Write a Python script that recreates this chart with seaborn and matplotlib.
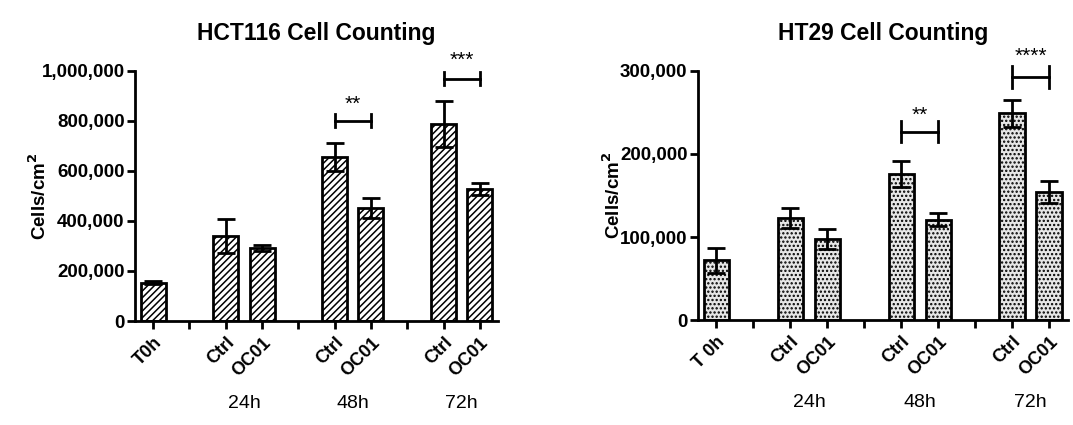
import matplotlib
matplotlib.use("Agg")
import matplotlib.pyplot as plt
import numpy as np
import pandas as pd
import seaborn as sns

# slot order along the x axis (gaps are empty slots between time points)
slots = ["T0h", "gap24", "Ctrl24", "OC0124", "gap48", "Ctrl48", "OC0148", "gap72", "Ctrl72", "OC0172"]
bar_keys = ["T0h", "Ctrl24", "OC0124", "Ctrl48", "OC0148", "Ctrl72", "OC0172"]
hct_labels = ["T0h", "", "Ctrl", "OC01", "", "Ctrl", "OC01", "", "Ctrl", "OC01"]
ht_labels = ["T 0h", "", "Ctrl", "OC01", "", "Ctrl", "OC01", "", "Ctrl", "OC01"]
groups = ["24h", "48h", "72h"]

hct_mean = [152000, 340000, 292000, 656000, 452000, 788000, 528000]
hct_sem = [6000, 68000, 12000, 56000, 40000, 92000, 25000]
ht_mean = [72000, 123000, 98000, 176000, 121000, 249000, 154000]
ht_sem = [15000, 12000, 12000, 16000, 8000, 16000, 13000]

# (left bar, right bar, bracket height, half tick, star position, stars)
hct_sig = [("Ctrl48", "OC0148", 800000, 26000, 868000, "**"),
           ("Ctrl72", "OC0172", 968000, 26000, 1044000, "***")]
ht_sig = [("Ctrl48", "OC0148", 227000, 13000, 246000, "**"),
          ("Ctrl72", "OC0172", 293000, 13000, 318000, "****")]

plt.rcParams["font.family"] = ["Liberation Sans", "DejaVu Sans"]
plt.rcParams["hatch.linewidth"] = 1.1


def draw_panel(ax, means, sems, sig, labels, title, ymax, yticks, hatch, face, hatch_col, ylab_x):
    df = pd.DataFrame({"slot": bar_keys, "value": means})
    sns.barplot(data=df, x="slot", y="value", order=slots, errorbar=None,
                color=face, width=0.69, linewidth=2, edgecolor="black", ax=ax)
    for p in ax.patches:
        p.set_hatch(hatch)
        p.set_facecolor(face)
        try:
            p.set_hatchcolor(hatch_col)
        except AttributeError:
            pass
    pos = [slots.index(k) for k in bar_keys]
    ax.errorbar(pos, means, yerr=sems, fmt="none", ecolor="black", elinewidth=2,
                capsize=6.5, capthick=2, zorder=5)
    # significance brackets
    for a, b, y, h, ys, stars in sig:
        xa, xb = slots.index(a), slots.index(b)
        ax.plot([xa, xb], [y, y], color="black", lw=2, clip_on=False)
        ax.plot([xa, xa], [y - h, y + h], color="black", lw=2, clip_on=False)
        ax.plot([xb, xb], [y - h, y + h], color="black", lw=2, clip_on=False)
        ax.text((xa + xb) / 2, ys, stars, ha="center", va="center",
                fontsize=15, clip_on=False)
    ax.set_xlim(-0.5, 9.5)
    ax.set_ylim(0, ymax)
    ax.set_yticks(yticks)
    ax.set_yticklabels([f"{v:,}" for v in yticks], fontsize=13.5, fontweight="bold")
    ax.set_xticks(range(len(slots)))
    ax.set_xticklabels(labels, rotation=45, ha="right", rotation_mode="anchor",
                       fontsize=13, fontweight="bold")
    ax.set_xlabel("")
    ax.set_ylabel("Cells/cm$^\\mathbf{2}$", fontsize=13.5, fontweight="bold")
    ax.yaxis.set_label_coords(ylab_x, 0.5)
    ax.set_title(title, fontsize=16.5, fontweight="bold", pad=22)
    sns.despine(ax=ax)
    for s in ["left", "bottom"]:
        ax.spines[s].set_linewidth(2)
    ax.tick_params(width=2, length=6, direction="out")
    ax.tick_params(axis="y", pad=1.5)
    for i, g in enumerate(groups):
        xc = (slots.index(bar_keys[1 + 2 * i]) + slots.index(bar_keys[2 + 2 * i])) / 2
        ax.text(xc, -0.33, g, transform=ax.get_xaxis_transform(), ha="center", va="center",
                fontsize=14)


fig = plt.figure(figsize=(10.73, 4.25), dpi=100)
ax1 = fig.add_axes([0.1258, 0.2447, 0.3383, 0.5883])
ax2 = fig.add_axes([0.6505, 0.247, 0.3445, 0.586])

draw_panel(ax1, hct_mean, hct_sem, hct_sig, hct_labels, "HCT116 Cell Counting", 1000000,
           [0, 200000, 400000, 600000, 800000, 1000000], "/////", "#ffffff", "black", -0.235)
draw_panel(ax2, ht_mean, ht_sem, ht_sig, ht_labels, "HT29 Cell Counting", 300000,
           [0, 100000, 200000, 300000], "....", "#e6e6e6", "#444444", -0.2)

fig.savefig("out.png", dpi=100)
